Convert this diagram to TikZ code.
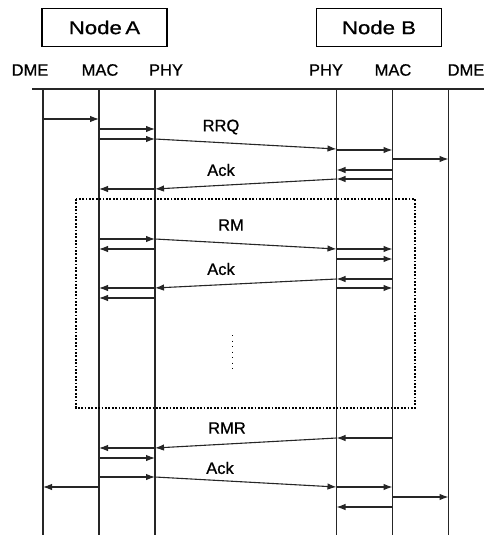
\documentclass[tikz,border=0pt]{standalone}
\usepackage{fontspec}
\setmainfont[FakeBold=0.8]{Liberation Sans}
\newfontfamily\boxfont[FakeStretch=1.2, FakeBold=0.8]{Liberation Sans}
\usetikzlibrary{arrows.meta}
\begin{document}
\begin{tikzpicture}[x=1pt,y=-1pt,
  life/.style={line width=1.2pt, draw=black!85},
  msg/.style={line width=1.1pt, draw=black!85, -{Latex[length=9pt,width=6.5pt]}},
  lbl/.style={font=\fontsize{16.5}{18}\selectfont, inner sep=0pt},
  nodebox/.style={draw, line width=1.5pt, minimum width=125pt, minimum height=38pt, inner sep=0pt, font=\boxfont\fontsize{18.5}{20}\selectfont},
  dotbox/.style={line width=1.8pt, dash pattern=on 1.8pt off 1.6pt},
  vdots/.style={line width=0.9pt, dash pattern=on 1pt off 4.5pt}]
\useasboundingbox (0,0) rectangle (496,535);
\newcommand\msg[4]{\draw[msg] (#1 |- 0,#2) -- (#3 |- 0,#4);}
% node boxes
\node[nodebox] (nodeA) at (104.5,27.5) {Node\hspace{3.5pt}A};
\node[nodebox] (nodeB) at (379,27.5) {Node B};
% column labels
\node[lbl] (tDA) at (30,70) {DME};
\node[lbl] (tMA) at (100,70) {MAC};
\node[lbl] (tPA) at (166,70) {PHY};
\node[lbl] (tPB) at (326,70) {PHY};
\node[lbl] (tMB) at (393,70) {MAC};
\node[lbl] (tDB) at (466,70) {DME};
% header line and lifelines
\coordinate (hl) at (32,89);
\coordinate (hr) at (484,89);
\draw[life] (hl) -- (hr);
\coordinate (dA) at (43,89);
\coordinate (mA) at (99,89);
\coordinate (pA) at (155,89);
\coordinate (pB) at (336.5,89);
\coordinate (mB) at (392.5,89);
\coordinate (dB) at (448.5,89);
\foreach \c in {dA,mA,pA,pB,mB,dB} \draw[life] (\c) -- (\c |- 0,535);
% RRQ exchange
\msg{dA}{119}{mA}{119}
\msg{mA}{129}{pA}{129}
\msg{mA}{139}{pA}{139}
\msg{pA}{139}{pB}{149}
\msg{pB}{150}{mB}{150}
\msg{mB}{159}{dB}{159}
\msg{mB}{170}{pB}{170}
\msg{mB}{179}{pB}{179}
\msg{pB}{179}{pA}{189}
\msg{pA}{189}{mA}{189}
\node[lbl] (lRRQ) at (221,127) {RRQ};
\node[lbl] (lAck1) at (221,170) {Ack};
% RM exchange
\draw[dotbox] (76,199) rectangle (415,408);
\msg{mA}{239}{pA}{239}
\msg{pA}{239}{pB}{249}
\msg{pA}{249}{mA}{249}
\msg{pB}{249}{mB}{249}
\msg{pB}{259}{mB}{259}
\msg{mB}{279}{pB}{279}
\msg{pB}{279}{pA}{288}
\msg{pB}{288}{mB}{288}
\msg{pA}{288}{mA}{288}
\msg{pA}{298}{mA}{298}
\node[lbl] (lRM) at (231,225) {RM};
\node[lbl] (lAck2) at (221,269) {Ack};
\draw[vdots] (232,335) -- (232,369);
% RMR exchange
\msg{mB}{438}{pB}{438}
\msg{pB}{438}{pA}{448}
\msg{pA}{448}{mA}{448}
\msg{mA}{458}{pA}{458}
\msg{mA}{477}{pA}{477}
\msg{pA}{477}{pB}{487}
\msg{mA}{487}{dA}{487}
\msg{pB}{487}{mB}{487}
\msg{mB}{497}{dB}{497}
\msg{mB}{507}{pB}{507}
\node[lbl] (lRMR) at (227,428) {RMR};
\node[lbl] (lAck3) at (220,468) {Ack};
\end{tikzpicture}
\end{document}
